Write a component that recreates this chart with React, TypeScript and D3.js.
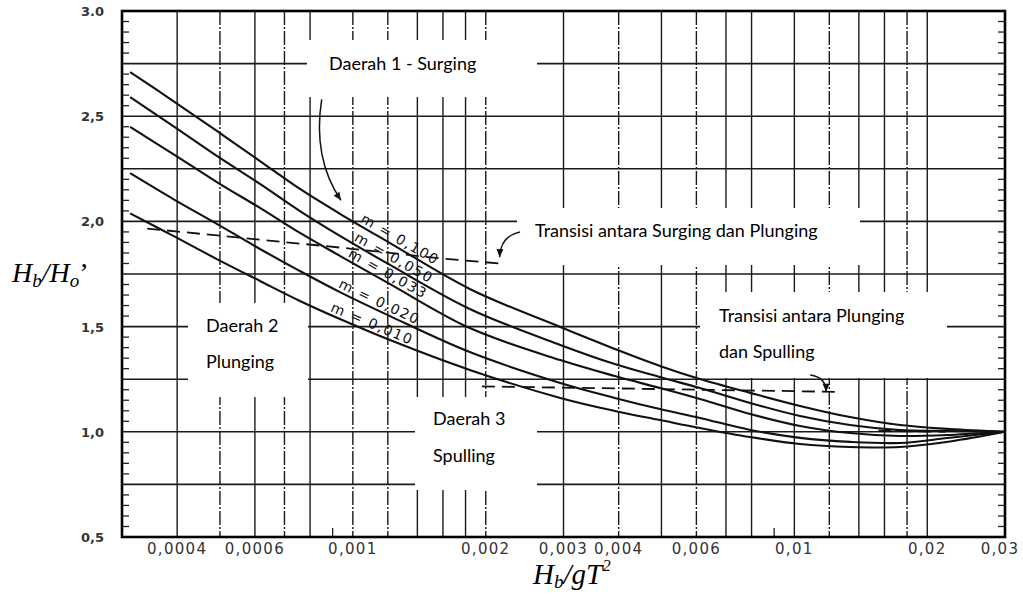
import React from "react";
import * as d3 from "d3";

// ---------- data ----------
const xTickValues = [0.0004, 0.0006, 0.001, 0.002, 0.003, 0.004, 0.006, 0.01, 0.02, 0.03];
const xTickLabels = ["0,0004", "0,0006", "0,001", "0,002", "0,003", "0,004", "0,006", "0,01", "0,02", "0,03"];
const yTickValues = [0.5, 1.0, 1.5, 2.0, 2.5, 3.0];
const yTickLabels = ["0,5", "1,0", "1,5", "2,0", "2,5", "3.0"];
const xGridValues = [0.0004, 0.0005, 0.0006, 0.0007, 0.0008, 0.001, 0.0012, 0.0014, 0.0016, 0.0018, 0.002, 0.003, 0.004, 0.005, 0.006, 0.007, 0.008, 0.01, 0.012, 0.014, 0.016, 0.018, 0.02];
const xGridBroken = [0.0005, 0.0007, 0.001, 0.0012, 0.002, 0.004, 0.006, 0.012, 0.018];
const yGridValues = [0.75, 1.0, 1.25, 1.5, 1.75, 2.0, 2.25, 2.5, 2.75];
const xShortTicks = [0.0009, 0.009];

const slopeNames = ["m = 0,100", "m = 0,050", "m = 0,033", "m = 0,020", "m = 0,010"];

// H_b/gT^2 sample positions shared by the five breaker curves
const steepness = [0.000313, 0.000392, 0.000492, 0.000616, 0.000759, 0.000935, 0.001214, 0.00184, 0.00295, 0.00392, 0.00496, 0.00611, 0.00794, 0.0103, 0.01337, 0.01735, 0.02252, 0.03];
const m100 = [2.71, 2.572, 2.43, 2.287, 2.154, 2.036, 1.897, 1.679, 1.498, 1.394, 1.313, 1.251, 1.185, 1.123, 1.07, 1.032, 1.013, 1.0];
const m050 = [2.591, 2.453, 2.311, 2.178, 2.049, 1.931, 1.793, 1.584, 1.413, 1.322, 1.26, 1.208, 1.137, 1.075, 1.032, 1.008, 1.004, 1.0];
const m033 = [2.449, 2.32, 2.187, 2.064, 1.945, 1.836, 1.702, 1.493, 1.341, 1.265, 1.208, 1.156, 1.085, 1.028, 0.994, 0.98, 0.985, 1.0];
const m020 = [2.229, 2.106, 1.988, 1.869, 1.764, 1.664, 1.55, 1.379, 1.232, 1.161, 1.108, 1.066, 1.009, 0.971, 0.952, 0.947, 0.972, 1.0];
const m010 = [2.038, 1.931, 1.821, 1.717, 1.622, 1.536, 1.436, 1.294, 1.161, 1.099, 1.056, 1.018, 0.975, 0.942, 0.928, 0.928, 0.954, 1.0];

const surgePlungeX = [0.000342, 0.000985, 0.00158, 0.00215];
const surgePlungeY = [1.966, 1.871, 1.824, 1.80];
const plungeSpillX = [0.00196, 0.0125];
const plungeSpillY = [1.216, 1.19];
const convergeX = [0.0155, 0.022];
const convergeY = [1.005, 1.0];

// annotation arrows: start, control, end (data units)
const arrow1 = [[0.00085, 2.58], [0.00081, 2.3], [0.00094, 2.1]];
const arrow2 = [[0.00239, 1.95], [0.00216, 1.93], [0.00215, 1.83]];
const arrow3 = [[0.01086, 1.27], [0.0118, 1.26], [0.0118, 1.19]];

const boxTexts = [
  ["Daerah 1 - Surging"],
  ["Transisi antara Surging dan Plunging"],
  ["Daerah 2", "Plunging"],
  ["Daerah 3", "Spulling"],
  ["Transisi antara Plunging", "dan Spulling"],
];

// ---------- layout ----------
const W = 1023, H = 598;
const boxes = [
  { x: 307, y: 40, w: 230, h: 57, tx: 329, ty: [70] },
  { x: 517, y: 208, w: 343, h: 57, tx: 535, ty: [237] },
  { x: 188, y: 303, w: 120, h: 94, tx: 206, ty: [332, 368] },
  { x: 415, y: 397, w: 122, h: 93, tx: 433, ty: [425, 462] },
  { x: 700, y: 292, w: 247, h: 86, tx: 719, ty: [322, 358] },
];
const labelCenterX = [396, 390, 384, 376, 369];

export default function App() {
  const x = d3.scaleLog().domain([0.0003, 0.03]).range([122, 1005]);
  const y = d3.scaleLinear().domain([0.5, 3.0]).range([537, 11]);

  const line = d3
    .line<[number, number]>()
    .x((d) => x(d[0]))
    .y((d) => y(d[1]))
    .curve(d3.curveCatmullRom.alpha(0.5));
  const straight = d3
    .line<[number, number]>()
    .x((d) => x(d[0]))
    .y((d) => y(d[1]));

  const curveValues = [m100, m050, m033, m020, m010];
  const series = curveValues.map((ys) => steepness.map((v, i) => [v, ys[i]] as [number, number]));

  const dashed = [
    [surgePlungeX, surgePlungeY],
    [plungeSpillX, plungeSpillY],
    [convergeX, convergeY],
  ].map(([xs, ys]) => xs.map((v, i) => [v, ys[i]] as [number, number]));

  const minorY = d3.range(0.5, 3.0001, 0.05).filter((v) => Math.abs(v * 4 - Math.round(v * 4)) > 0.01);

  const arrowPath = (a: number[][]) => {
    const [s, c, e] = a.map((p) => [x(p[0]), y(p[1])]);
    return `M${s[0]},${s[1]} Q${c[0]},${c[1]} ${e[0]},${e[1]}`;
  };
  const arrowHead = (a: number[][]) => {
    const [, c, e] = a.map((p) => [x(p[0]), y(p[1])]);
    const ang = Math.atan2(e[1] - c[1], e[0] - c[0]);
    const L = 8, Wd = 3.5;
    const bx = e[0] - L * Math.cos(ang), by = e[1] - L * Math.sin(ang);
    const px = -Math.sin(ang) * Wd, py = Math.cos(ang) * Wd;
    return `M${e[0]},${e[1]} L${bx + px},${by + py} L${bx - px},${by - py} Z`;
  };

  // label placement: text sits on top of its own curve
  const labels = curveValues.map((ys, i) => {
    const interp = d3.scaleLog().domain(steepness).range(ys);
    const cx = labelCenterX[i];
    const py = (px: number) => y(interp(x.invert(px)));
    const cy = py(cx);
    const ang = (Math.atan2(py(cx + 20) - py(cx - 20), 40) * 180) / Math.PI;
    const off = 3.5;
    const rad = (ang * Math.PI) / 180;
    return { tx: cx + off * Math.sin(rad), ty: cy - off * Math.cos(rad), ang };
  });

  const x0 = x(0.0003), x1 = x(0.03), y0 = y(0.5), y1 = y(3.0);

  return (
    <svg width={W} height={H} style={{ position: "absolute", left: 0, top: 0, background: "#fff" }}>
      <rect x={0} y={0} width={W} height={H} fill="#fff" />
      {/* grid */}
      {xGridValues.map((v) => (
        <line
          key={"gx" + v}
          x1={x(v)}
          x2={x(v)}
          y1={y1}
          y2={y0}
          stroke="#1a1a1a"
          strokeWidth={1.4}
          strokeDasharray={xGridBroken.includes(v) ? "14,2,2,2" : undefined}
        />
      ))}
      {yGridValues.map((v) => (
        <line key={"gy" + v} x1={x0} x2={x1} y1={y(v)} y2={y(v)} stroke="#1a1a1a" strokeWidth={1.6} />
      ))}
      {/* minor ticks */}
      {minorY.map((v) => (
        <g key={"my" + v}>
          <line x1={x0} x2={x0 + 7} y1={y(v)} y2={y(v)} stroke="#222" strokeWidth={1.3} />
          <line x1={x1} x2={x1 - 7} y1={y(v)} y2={y(v)} stroke="#222" strokeWidth={1.3} />
        </g>
      ))}
      {xShortTicks.map((v) => (
        <line key={"st" + v} x1={x(v)} x2={x(v)} y1={y0} y2={y0 - 9} stroke="#222" strokeWidth={1.3} />
      ))}
      {/* white label boxes */}
      {boxes.map((b, i) => (
        <rect key={"b" + i} x={b.x} y={b.y} width={b.w} height={b.h} fill="#fff" />
      ))}
      {/* curves */}
      {series.map((s, i) => (
        <path key={"c" + i} d={line(s) || ""} fill="none" stroke="#111" strokeWidth={2.1} />
      ))}
      {dashed.map((s, i) => (
        <path key={"d" + i} d={straight(s) || ""} fill="none" stroke="#111" strokeWidth={1.8} strokeDasharray="13,7" />
      ))}
      {/* arrows */}
      {[arrow1, arrow2, arrow3].map((a, i) => (
        <g key={"a" + i}>
          <path d={arrowPath(a)} fill="none" stroke="#111" strokeWidth={1.5} />
          <path d={arrowHead(a)} fill="#111" />
        </g>
      ))}
      {/* curve labels */}
      {slopeNames.map((t, i) => (
        <text
          key={"cl" + i}
          transform={`translate(${labels[i].tx},${labels[i].ty}) rotate(${labels[i].ang})`}
          textAnchor="middle"
          fontFamily="'DejaVu Sans', sans-serif"
          fontSize={14}
          letterSpacing={1.5}
          fill="#111"
        >
          {t}
        </text>
      ))}
      {/* box texts */}
      {boxes.map((b, i) =>
        boxTexts[i].map((t, j) => (
          <text key={"bt" + i + j} x={b.tx} y={b.ty[j]} fontFamily="Lato, 'Open Sans', sans-serif" fontSize={18} fill="#000">
            {t}
          </text>
        ))
      )}
      {/* frame */}
      <rect x={x0} y={y1} width={x1 - x0} height={y0 - y1} fill="none" stroke="#000" strokeWidth={2.6} />
      {/* axis tick labels */}
      {xTickValues.map((v, i) => (
        <text
          key={"xt" + v}
          x={Math.min(x(v), 1000)}
          y={554}
          textAnchor="middle"
          fontFamily="'DejaVu Sans', sans-serif"
          fontSize={15}
          letterSpacing={1.3}
          fill="#333"
        >
          {xTickLabels[i]}
        </text>
      ))}
      {yTickValues.map((v, i) => (
        <text
          key={"yt" + v}
          x={104}
          y={y(v) + 5}
          textAnchor="end"
          fontFamily="'DejaVu Sans', sans-serif"
          fontWeight="bold"
          fontSize={13}
          fill="#333"
        >
          {yTickLabels[i]}
        </text>
      ))}
      {/* axis titles */}
      <text x={12} y={282} fontFamily="'Liberation Serif', 'Times New Roman', serif" fontStyle="italic" fontSize={28} fill="#000">
        H<tspan fontSize={19} dy={5}>b</tspan>
        <tspan dy={-5}>/H</tspan>
        <tspan fontSize={19} dy={5}>o</tspan>
        <tspan dy={-5} fontStyle="normal">’</tspan>
      </text>
      <text x={533} y={584} fontFamily="'Liberation Serif', 'Times New Roman', serif" fontStyle="italic" fontSize={29} fill="#000">
        H<tspan fontSize={19} dy={4}>b</tspan>
        <tspan dy={-4}>/gT</tspan>
        <tspan fontSize={17} dy={-13}>2</tspan>
      </text>
    </svg>
  );
}
